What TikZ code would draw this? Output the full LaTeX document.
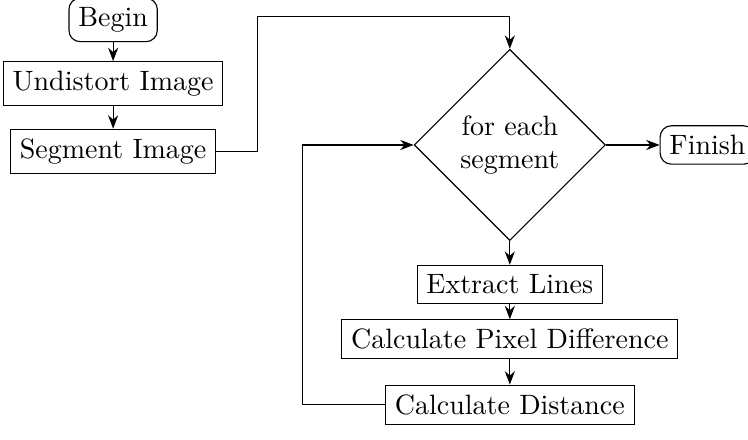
\documentclass[tikz,border=0pt]{standalone}
\usetikzlibrary{shapes.geometric,arrows.meta}

\begin{document}
\begin{tikzpicture}[>={Stealth}, 
	block/.style = {draw, rectangle},
	terminal/.style = {draw, rectangle, rounded corners},
	decision/.style = {draw, diamond, aspect = 1, minimum size = 2.4cm, inner sep = 0pt, align = center}]
	\useasboundingbox (0, 0) rectangle (9.39, -5.52);
	
	\node[terminal] (begin) at (1.42, -0.25) {Begin};
	\node[block] (undistort) at (1.42, -1.05) {Undistort Image};
	\node[block] (segment) at (1.42, -1.90) {Segment Image};
	
	\node[decision] (loop) at (6.40, -1.82) {for each\\segment};
	\node[terminal, anchor = west] (finish) at (8.28, -1.82) {Finish};
	
	\node[block] (extract) at (6.40, -3.57) {Extract Lines};
	\node[block] (pixdiff) at (6.40, -4.26) {Calculate Pixel Difference};
	\node[block] (distance) at (6.40, -5.08) {Calculate Distance};
	
	\coordinate (route) at (3.23, -0.21);
	\coordinate (ret) at (3.80, -1.82);
	
	\draw[->] (begin) -- (undistort);
	\draw[->] (undistort) -- (segment);
	\draw[->] (segment.east) -| (route) -| (loop.north);
	\draw[->] (loop.east) -- (finish.west);
	\draw[->] (loop.south) -- (extract.north);
	\draw[->] (extract) -- (pixdiff);
	\draw[->] (pixdiff) -- (distance);
	\draw[->] (distance.west) -| (ret) -- (loop.west);
\end{tikzpicture}
\end{document}
